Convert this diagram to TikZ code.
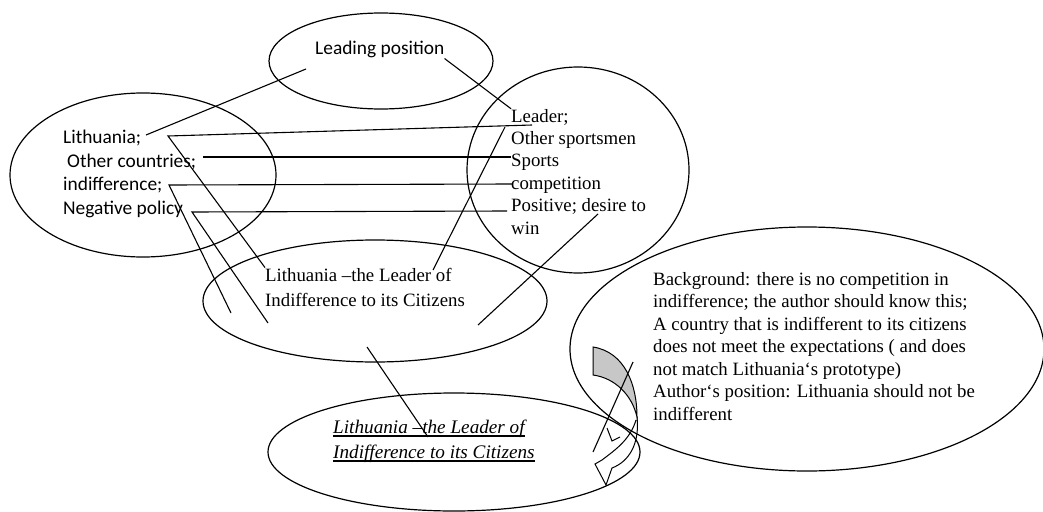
\documentclass[tikz,border=0pt]{standalone}
\usepackage{fontspec}
\setmainfont{Liberation Serif}
\newfontfamily\carlito{Carlito}
\usetikzlibrary{shapes.geometric}

\tikzset{
  oval/.style={draw, ellipse, line width=1.2pt, inner sep=0pt},
  link/.style={line width=1.1pt},
  sanslbl/.style={font=\carlito\fontsize{19.4}{23}\selectfont, inner sep=0pt, anchor=base west},
  serlbl/.style={font=\fontsize{18.8}{22.5}\selectfont, inner sep=0pt, anchor=base west},
  itlbl/.style={font=\itshape\fontsize{19.2}{23}\selectfont, inner sep=0pt, anchor=base west},
}

\begin{document}
\begin{tikzpicture}[x=1pt,y=-1pt]
    \useasboundingbox (0,0) rectangle (1043,511);

    % curved arrow
    \filldraw[fill=black!22, line width=1pt] (593,347) -- (593,375)
        .. controls (615,378) and (632,395) .. (637,417)
        .. controls (637,385) and (625,352) .. (593,347) -- cycle;
    \filldraw[fill=white, line width=1pt] (637,417)
        .. controls (640,445) and (628,462) .. (612,468) -- (606,485) -- (595,464) -- (602,460)
        .. controls (615,450) and (630,440) .. (636,420);
    \draw[line width=1pt] (607,428) -- (612,441) -- (620,437);

    % ovals
    \node[oval, minimum width=224, minimum height=96] (lpos) at (381,61) {};
    \node[oval, minimum width=266, minimum height=164] (lft) at (143,175) {};
    \node[oval, minimum width=222, minimum height=206] (rgt) at (578,170) {};
    \node[oval, minimum width=344, minimum height=122] (mid) at (375,301) {};
    \node[oval, minimum width=372, minimum height=118] (btm) at (454,452) {};
    \node[oval, minimum width=474, minimum height=244] (bkg) at (807,349) {};

    % texts
    \node[sanslbl] (lead) at (315,55) {Leading position};
    \node[sanslbl] (lit) at (63,143) {Lithuania;};
    \node[sanslbl] (oth) at (67,167) {Other countries;};
    \node[sanslbl] (ind) at (63,190) {indifference;};
    \node[sanslbl] (neg) at (63,214) {Negative policy};

    \foreach \t [count=\i] in {{Leader;},{Other sportsmen},{Sports},{competition},{Positive; desire to},{win}}
        \node[serlbl] (sp\i) at (511,{122+22.4*(\i-1)}) {\t};

    \node[serlbl] (ml1) at (265,281) {Lithuania –the Leader of};
    \node[serlbl] (ml2) at (265,306) {Indifference to its Citizens};

    \node[itlbl] (bl1) at (333,433) {Lithuania –the Leader of};
    \node[itlbl] (bl2) at (333,458) {Indifference to its Citizens};
    \draw[line width=1.4pt] ([yshift=-3pt]bl1.base west) -- ([yshift=-3pt]bl1.base east);
    \draw[line width=1.4pt] ([yshift=-3pt]bl2.base west) -- ([yshift=-3pt]bl2.base east);

    \foreach \t [count=\i] in {{Background: there is no competition in},
        {indifference; the author should know this;},
        {A country that is indifferent to its citizens},
        {does not meet the expectations ( and does},
        {not match Lithuania‘s prototype)},
        {Author‘s position: Lithuania should not be},
        {indifferent}}
        \node[serlbl] (bg\i) at (653,{285+22.5*(\i-1)}) {\t};

    % connector ends
    \coordinate (lposin) at (306,69);
    \coordinate (litend) at (146,135);
    \coordinate (litc) at (168,136);
    \coordinate (litr) at (532,125);
    \coordinate (othc) at (203,157);
    \coordinate (othr) at (511,157);
    \coordinate (indc) at (169,185);
    \coordinate (indr) at (512,184);
    \coordinate (indd) at (231,313);
    \coordinate (negc) at (192,212);
    \coordinate (negr) at (507,211);
    \coordinate (negd) at (268,323);
    \coordinate (mlead) at (433,270);
    \coordinate (spl) at (505,127);
    \coordinate (desire) at (598,214);
    \coordinate (midr) at (478,325);
    \coordinate (midb) at (367,347);
    \coordinate (btmt) at (428,437);
    \coordinate (bkgl) at (633,362);
    \coordinate (btmr) at (593,452);

    % connectors
    \draw[link] (lposin) -- (litend);
    \draw[link] (lead.south east) -- (sp1.north west);
    \draw[link] (litr) -- (litc) -- (ml1.north west);
    \draw[link] (othc) -- (othr);
    \draw[link] (indr) -- (indc) -- (indd);
    \draw[link] (negr) -- (negc) -- (negd);
    \draw[link] (mlead) -- (spl);
    \draw[link] (desire) -- (midr);
    \draw[link] (midb) -- (btmt);
    \draw[link] (bkgl) -- (btmr);
\end{tikzpicture}
\end{document}
